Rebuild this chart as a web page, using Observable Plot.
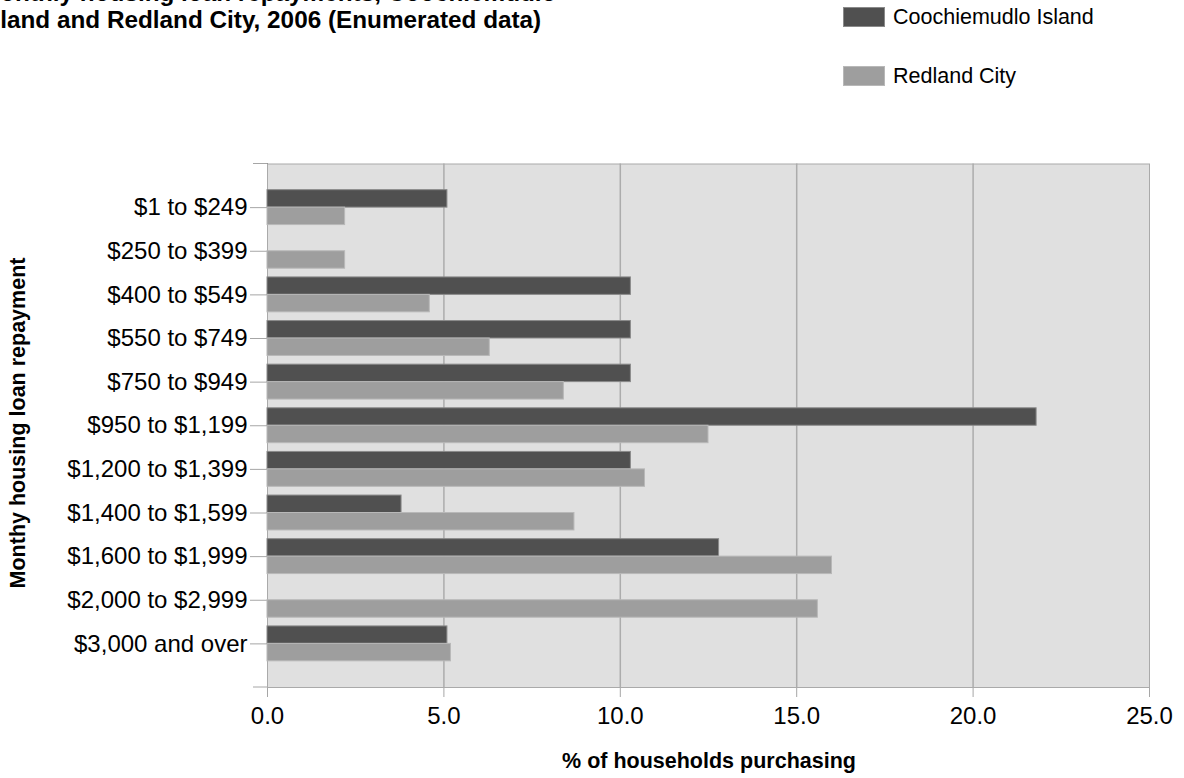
<!DOCTYPE html>
<html>
<head>
<meta charset="utf-8">
<script src="https://cdn.jsdelivr.net/npm/d3@7"></script>
<script src="https://cdn.jsdelivr.net/npm/@observablehq/plot@0.6"></script>
<style>
  html, body { margin: 0; padding: 0; background: #fff; overflow: hidden; }
  #wrap { position: relative; width: 1184px; height: 778px; font-family: "Liberation Sans", Arial, sans-serif; color: #000; }
  #title { position: absolute; left: -20px; top: -21px; font-weight: bold; font-size: 24.3px; line-height: 27px; white-space: nowrap; }
  .leg { position: absolute; left: 843px; font-size: 21.5px; line-height: 24px; display: flex; align-items: center; white-space: nowrap; }
  .sw { width: 42px; height: 20px; margin-right: 8px; box-sizing: border-box; }
  .axt { position: absolute; font-weight: bold; font-size: 21.5px; white-space: nowrap; }
  #chart { position: absolute; left: 0; top: 0; }
</style>
</head>
<body>
<div id="wrap">
  <div id="chart"></div>
  <div id="title">Monthly housing loan repayments, Coochiemudlo<br>Island and Redland City, 2006 (Enumerated data)</div>
  <div id="legend"></div>
  <div class="axt" id="xt" style="left:0;width:1184px;top:749px;text-align:center;padding-left:234px;box-sizing:border-box;"></div>
  <div class="axt" id="yt" style="left:18px;top:423px;transform:translate(-50%,-50%) rotate(-90deg);"></div>
</div>
<script>
const categories = ["$1 to $249", "$250 to $399", "$400 to $549", "$550 to $749", "$750 to $949", "$950 to $1,199", "$1,200 to $1,399", "$1,400 to $1,599", "$1,600 to $1,999", "$2,000 to $2,999", "$3,000 and over"];
const seriesNames = ["Coochiemudlo Island", "Redland City"];
const coochiemudlo = [5.1, 0, 10.3, 10.3, 10.3, 21.8, 10.3, 3.8, 12.8, 0, 5.1];
const redland = [2.2, 2.2, 4.6, 6.3, 8.4, 12.5, 10.7, 8.7, 16.0, 15.6, 5.2];
const xTicks = [0, 5, 10, 15, 20, 25];
const xLabel = "% of households purchasing";
const yLabel = "Monthy housing loan repayment";
const colors = ["#505050", "#9e9e9e"];
const strokes = ["#8a8a8a", "#b8b8b8"];

const rows = [];
categories.forEach((c, i) => {
  rows.push({category: c, series: seriesNames[0], value: coochiemudlo[i]});
  rows.push({category: c, series: seriesNames[1], value: redland[i]});
});

const W = 1184, H = 778;
const mL = 267, mR = 35, mT = 163.5, mB = 91;
const pIn = 0.2, pOut = 0.6;
const step = (H - mT - mB) / (categories.length - pIn + 2 * pOut);
const half = step * (1 - pIn) / 2;

const chart = Plot.plot({
  width: W, height: H,
  marginLeft: mL, marginRight: mR, marginTop: mT, marginBottom: mB,
  style: {fontFamily: "'Liberation Sans', Arial, sans-serif", fontSize: "24px", color: "#000", background: "transparent", overflow: "visible"},
  x: {domain: [0, 25], ticks: xTicks, tickFormat: d => d.toFixed(1), tickSize: 10, tickPadding: 9, label: null, line: true},
  y: {domain: categories, paddingInner: pIn, paddingOuter: pOut, round: false, tickSize: 17, tickPadding: 3, label: null, line: true},
  marks: [
    Plot.frame({fill: "#e0e0e0", stroke: "#aaaaaa"}),
    Plot.ruleX(xTicks.slice(1, -1), {stroke: "#acacac", strokeWidth: 1.5}),
    Plot.barX(rows, {filter: d => d.series === seriesNames[0] && d.value > 0, x: "value", y: "category", fill: colors[0], stroke: strokes[0], strokeWidth: 1, insetBottom: half}),
    Plot.barX(rows, {filter: d => d.series === seriesNames[1] && d.value > 0, x: "value", y: "category", fill: colors[1], stroke: strokes[1], strokeWidth: 1, insetTop: half})
  ]
});
document.getElementById("chart").appendChild(chart);

// axis lines/ticks in grey
d3.select(chart).selectAll('g[aria-label*="axis"] line, g[aria-label*="axis"] path').attr("stroke", "#a6a6a6");
d3.select(chart).selectAll('g[aria-label*="axis"] text').attr("fill", "#000");

// short extensions of top and bottom border to the left
const xs = chart.scale("x");
const x0 = xs.range ? xs.range[0] : mL;
d3.select(chart).append("g").selectAll("line").data([mT, H - mB]).join("line")
  .attr("x1", x0 - 14).attr("x2", x0).attr("y1", d => d).attr("y2", d => d)
  .attr("stroke", "#a6a6a6");

// legend
const leg = document.getElementById("legend");
seriesNames.forEach((s, i) => {
  const d = document.createElement("div");
  d.className = "leg";
  d.style.top = (4.5 + i * 59.7) + "px";
  d.innerHTML = `<div class="sw" style="background:${colors[i]};border:1px solid ${strokes[i]}"></div><span></span>`;
  d.querySelector("span").textContent = s;
  leg.appendChild(d);
});
document.getElementById("xt").textContent = xLabel;
document.getElementById("yt").textContent = yLabel;
</script>
</body>
</html>
